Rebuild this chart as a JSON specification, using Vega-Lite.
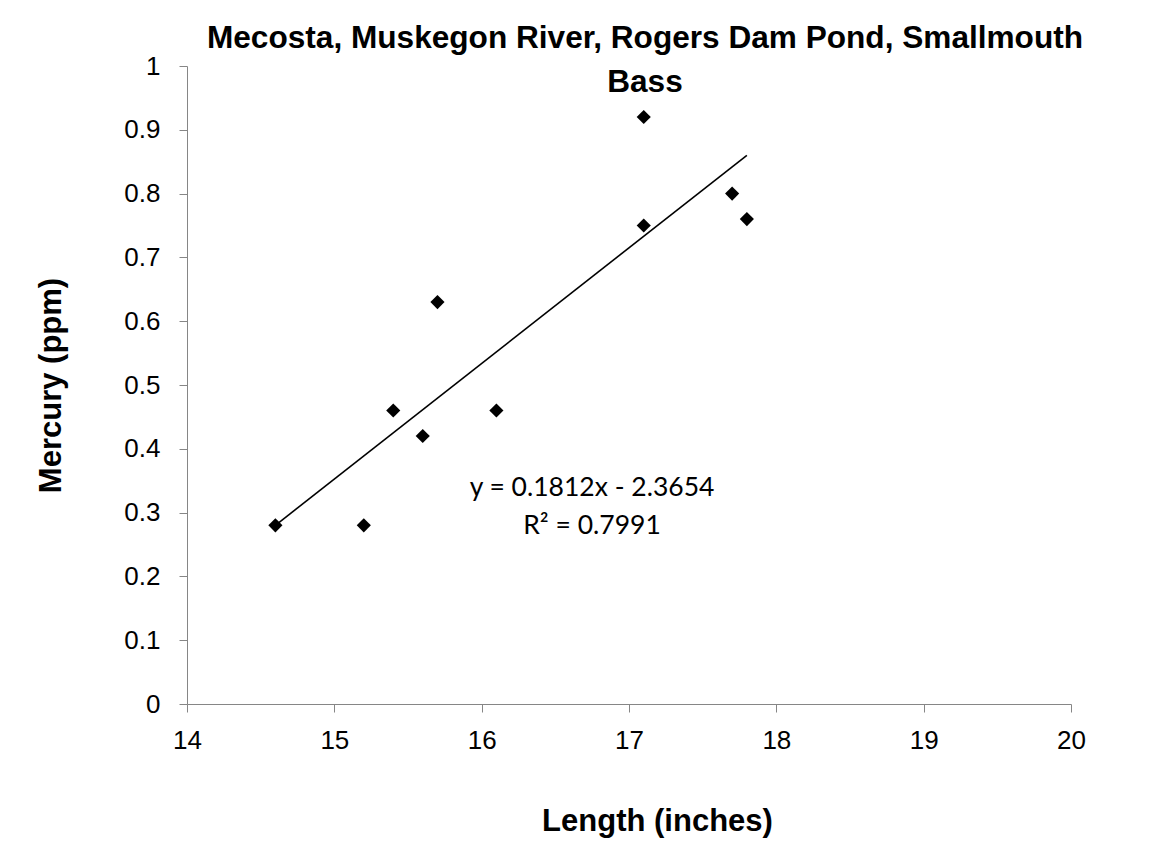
{
  "$schema": "https://vega.github.io/schema/vega-lite/v6.json",
  "width": 884,
  "height": 638,
  "autosize": {"type": "none"},
  "padding": {"left": 187, "top": 66, "right": 85, "bottom": 138},
  "background": "white",
  "config": {"view": {"stroke": null}, "font": "Liberation Sans"},
  "title": {
    "text": ["Mecosta, Muskegon River, Rogers Dam Pond, Smallmouth", "Bass"],
    "fontSize": 31.6,
    "fontWeight": "bold",
    "font": "Liberation Sans",
    "color": "black",
    "anchor": "middle",
    "frame": "group",
    "baseline": "alphabetic",
    "lineHeight": 44,
    "offset": -71,
    "dx": 16
  },
  "datasets": {
    "fish": [
      {"length": 14.6, "mercury": 0.28},
      {"length": 15.2, "mercury": 0.28},
      {"length": 15.4, "mercury": 0.46},
      {"length": 15.6, "mercury": 0.42},
      {"length": 15.7, "mercury": 0.63},
      {"length": 16.1, "mercury": 0.46},
      {"length": 17.1, "mercury": 0.92},
      {"length": 17.1, "mercury": 0.75},
      {"length": 17.7, "mercury": 0.80},
      {"length": 17.8, "mercury": 0.76}
    ],
    "trend": [
      {"length": 14.6, "mercury": 0.2801},
      {"length": 17.8, "mercury": 0.8600}
    ]
  },
  "layer": [
    {
      "data": {"name": "trend"},
      "mark": {"type": "line", "color": "black", "strokeWidth": 1.6},
      "encoding": {
        "x": {
          "field": "length",
          "type": "quantitative",
          "scale": {"domain": [14, 20], "nice": false, "zero": false},
          "axis": {
            "title": "Length (inches)",
            "values": [14, 15, 16, 17, 18, 19, 20],
            "format": "d",
            "grid": false,
            "domainColor": "#868686",
            "tickColor": "#868686",
            "tickSize": 8,
            "labelFontSize": 26,
            "labelColor": "black",
            "labelPadding": 15,
            "labelFlush": false,
            "labelOverlap": false,
            "titleFontSize": 31,
            "titleFontWeight": "bold",
            "titleColor": "black",
            "titleX": 470,
            "titleY": 126,
            "titleAlign": "center",
            "titleBaseline": "alphabetic"
          }
        },
        "y": {
          "field": "mercury",
          "type": "quantitative",
          "scale": {"domain": [0, 1], "nice": false},
          "axis": {
            "title": "Mercury (ppm)",
            "values": [0, 0.1, 0.2, 0.3, 0.4, 0.5, 0.6, 0.7, 0.8, 0.9, 1],
            "format": "~g",
            "grid": false,
            "domainColor": "#868686",
            "tickColor": "#868686",
            "tickSize": 8,
            "labelFontSize": 26,
            "labelColor": "black",
            "labelPadding": 19,
            "labelFlush": false,
            "labelOverlap": false,
            "titleFontSize": 31,
            "titleFontWeight": "bold",
            "titleColor": "black",
            "titleAngle": -90,
            "titleX": -127,
            "titleY": 319,
            "titleAlign": "center",
            "titleBaseline": "alphabetic"
          }
        }
      }
    },
    {
      "data": {"name": "fish"},
      "mark": {"type": "point", "shape": "diamond", "filled": true, "color": "black", "size": 200, "opacity": 1},
      "encoding": {
        "x": {"field": "length", "type": "quantitative"},
        "y": {"field": "mercury", "type": "quantitative"}
      }
    },
    {
      "data": {"values": [{}]},
      "mark": {"type": "text", "font": "Lato", "fontSize": 26.5, "color": "black", "align": "center", "baseline": "alphabetic", "lineHeight": 38},
      "encoding": {
        "x": {"datum": 16.749, "type": "quantitative"},
        "y": {"datum": 0.326, "type": "quantitative"},
        "text": {"value": ["y = 0.1812x - 2.3654", "R² = 0.7991"]}
      }
    }
  ]
}
